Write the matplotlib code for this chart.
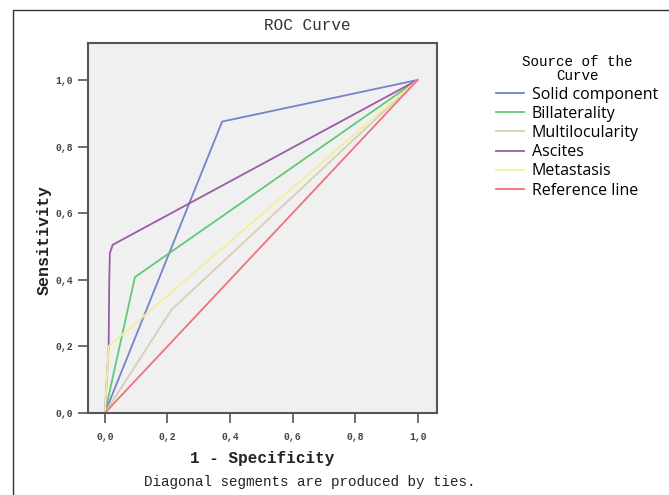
"""
ROC curves for the ovarian mass predictors
"""

import numpy as np
import matplotlib as mpl
mpl.use("Agg")
import matplotlib.pyplot as plt
from matplotlib.patches import Rectangle

series_names = ["Solid component", "Billaterality", "Multilocularity",
                "Ascites", "Metastasis", "Reference line"]
fpr_solid = [0.0, 0.375, 1.0]
tpr_solid = [0.0, 0.875, 1.0]
fpr_bilat = [0.0, 0.096, 1.0]
tpr_bilat = [0.0, 0.408, 1.0]
fpr_multi = [0.0, 0.213, 1.0]
tpr_multi = [0.0, 0.31, 1.0]
fpr_ascites = [0.0, 0.012, 0.014, 0.016, 0.025, 1.0]
tpr_ascites = [0.0, 0.2, 0.4, 0.48, 0.505, 1.0]
fpr_meta = [0.0, 0.012, 1.0]
tpr_meta = [0.0, 0.2, 1.0]
fpr_ref = [0.0, 1.0]
tpr_ref = [0.0, 1.0]

tick_values = [0.0, 0.2, 0.4, 0.6, 0.8, 1.0]
tick_labels = ["0,0", "0,2", "0,4", "0,6", "0,8", "1,0"]

colors = ["#7483cc", "#62c874", "#d8cfb2", "#9b5aa8", "#f2ee9c", "#ee717c"]

mono = "Liberation Mono"

fig = plt.figure(figsize=(6.69, 4.95), dpi=100)
fig.patches.append(Rectangle((13/669, -0.05), 1.0, (485/495) + 0.05, transform=fig.transFigure,
                             fill=False, edgecolor="#333333", linewidth=1.0))
ax = fig.add_axes([88/669, 82/495, 349/669, 370/495])
ax.set_facecolor("#f0f0f0")

curves = [(fpr_solid, tpr_solid), (fpr_bilat, tpr_bilat), (fpr_multi, tpr_multi),
          (fpr_ascites, tpr_ascites), (fpr_meta, tpr_meta), (fpr_ref, tpr_ref)]
for (x, y), name, c in zip(curves, series_names, colors):
    ax.plot(x, y, color=c, lw=1.3, label=name)

ax.set_xlim(-0.054, 1.062)
ax.set_ylim(0.0, 1.111)
ax.set_xticks(tick_values)
ax.set_xticklabels(tick_labels)
ax.set_yticks(tick_values)
ax.set_yticklabels(tick_labels)
for lab in ax.get_xticklabels() + ax.get_yticklabels():
    lab.set_fontfamily(mono)
    lab.set_fontweight("bold")
    lab.set_fontsize(7)
    lab.set_color("#444444")
ax.tick_params(direction="out", length=7, width=1.2, color="#555555", pad=4)
ax.tick_params(axis="x", pad=7)
for sp in ax.spines.values():
    sp.set_color("#555555")
    sp.set_linewidth(1.5)

fig.text(307/669, 1 - 26/495, "ROC Curve", family=mono, fontsize=11.5,
         ha="center", va="center", color="#333333")
fig.text(262/669, 1 - 458/495, "1 - Specificity", family=mono, fontsize=11.5,
         fontweight="bold", ha="center", va="center", color="#222222")
fig.text(310/669, 1 - 482/495, "Diagonal segments are produced by ties.", family=mono,
         fontsize=10.3, ha="center", va="center", color="#222222")
fig.text(44/669, 1 - 240/495, "Sensitivity", family=mono, fontsize=12,
         fontweight="bold", rotation=90, ha="center", va="center", color="#222222")

leg = ax.legend(loc="upper left", bbox_to_anchor=(490/669, 1 - 49/495),
                bbox_transform=fig.transFigure, frameon=False,
                title="Source of the\nCurve", handlelength=1.7, handletextpad=0.5,
                labelspacing=0.2, borderaxespad=0,
                prop={"family": "Open Sans", "size": 11.5})
leg.get_title().set_fontfamily(mono)
leg.get_title().set_fontsize(10.3)
leg.get_title().set_multialignment("center")
leg.get_title().set_linespacing(1.0)
leg._legend_box.align = "center"

fig.savefig("out.png", dpi=100)
